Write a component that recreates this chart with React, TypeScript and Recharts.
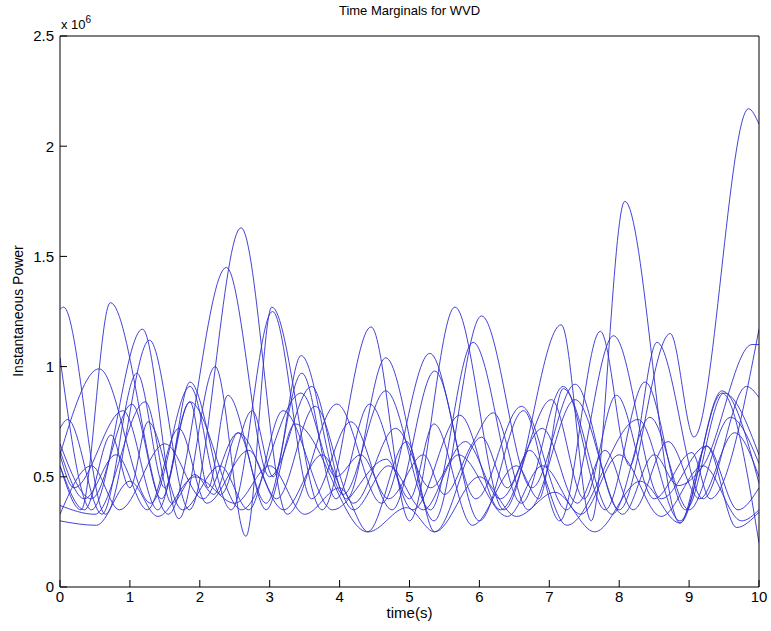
import React from "react";
import { Line, LineChart, XAxis, YAxis } from "recharts";

// time (s) vs instantaneous power (x 10^6) at the peaks and troughs
const timeTicks = [0, 1, 2, 3, 4, 5, 6, 7, 8, 9, 10];
const powerTicks = [0, 0.5, 1, 1.5, 2, 2.5];

const curve1: [number, number][] = [
  [0, 1.26], [0.05, 1.27], [0.65, 0.33], [1.28, 1.12], [1.85, 0.35], [2.59, 1.63], [3.25, 0.33], [3.96, 0.83],
  [4.6, 0.38], [5.29, 1.06], [5.95, 0.4], [6.6, 0.82], [7.25, 0.35], [7.92, 1.14], [8.6, 0.4],
  [9.25, 0.64], [9.7, 0.35], [10, 0.45]
];
const curve2: [number, number][] = [
  [0, 0.55], [0.3, 0.35], [0.72, 1.29], [1.55, 0.33], [2.38, 1.45], [3.0, 0.5], [3.6, 0.91],
  [4.1, 0.4], [4.66, 1.04], [5.35, 0.3], [6.03, 1.23], [6.75, 0.45], [7.37, 0.92], [8.0, 0.35],
  [8.73, 1.15], [9.07, 0.68], [9.85, 2.17], [10, 2.1]
];
const curve3: [number, number][] = [
  [0, 1.04], [0.45, 0.35], [1.18, 1.17], [1.7, 0.31], [2.22, 1.0], [2.66, 0.23], [3.03, 1.27],
  [3.75, 0.35], [4.45, 1.18], [5.0, 0.3], [5.65, 1.27], [6.35, 0.35], [7.17, 1.19], [7.6, 0.3],
  [8.08, 1.75], [8.87, 0.29], [9.47, 0.89], [10, 0.47]
];
const curve4: [number, number][] = [
  [0, 0.72], [0.11, 0.76], [0.6, 0.33], [1.1, 0.97], [1.5, 0.45], [1.86, 0.93], [2.45, 0.35],
  [3.04, 1.25], [3.6, 0.4], [4.16, 0.75], [4.75, 0.35], [5.36, 0.98], [6.0, 0.3], [6.63, 0.8],
  [7.15, 0.3], [7.73, 1.16], [8.15, 0.55], [8.54, 1.11], [9.2, 0.4], [9.82, 0.91], [10, 0.86]
];
const curve5: [number, number][] = [
  [0, 0.6], [0.56, 0.99], [1.3, 0.38], [1.86, 0.91], [2.3, 0.42], [2.75, 0.8], [3.05, 0.5],
  [3.45, 1.05], [4.05, 0.42], [4.66, 0.89], [5.3, 0.35], [5.91, 1.11], [6.6, 0.38], [7.2, 0.91],
  [7.8, 0.35], [8.37, 0.93], [8.95, 0.35], [9.5, 0.88], [10, 0.6]
];
const curve6: [number, number][] = [
  [0, 0.65], [0.45, 0.4], [1.03, 0.83], [1.45, 0.4], [1.86, 0.84], [2.12, 0.45], [2.4, 0.87],
  [2.95, 0.38], [3.46, 0.97], [3.95, 0.4], [4.43, 0.83], [5.05, 0.35], [5.72, 0.78], [6.3, 0.35],
  [7.03, 0.85], [7.5, 0.4], [7.96, 0.87], [8.5, 0.4], [9.04, 0.61], [9.3, 0.4], [10, 1.17]
];
const curve7: [number, number][] = [
  [0, 0.55], [0.35, 0.35], [0.73, 0.69], [1.0, 0.45], [1.26, 0.75], [1.75, 0.35], [2.29, 0.55],
  [2.7, 0.35], [3.19, 0.8], [3.9, 0.35], [4.67, 0.58], [5.0, 0.4], [5.35, 0.74], [5.9, 0.28],
  [6.53, 0.55], [6.85, 0.4], [7.2, 0.9], [7.9, 0.33], [8.44, 0.77], [9.0, 0.35], [9.59, 0.77],
  [10, 0.56]
];
const curve8: [number, number][] = [
  [0, 0.37], [0.5, 0.33], [1.22, 0.84], [1.6, 0.38], [1.93, 0.51], [2.2, 0.42], [2.55, 0.7],
  [2.95, 0.35], [3.36, 0.74], [4.4, 0.25], [4.96, 0.66], [5.36, 0.25], [6.03, 0.68], [6.4, 0.45],
  [6.72, 0.62], [7.25, 0.28], [8.27, 0.76], [8.87, 0.3], [9.47, 0.88], [10, 0.2]
];
const curve9: [number, number][] = [
  [0, 0.3], [0.52, 0.28], [1.0, 0.48], [1.4, 0.32], [1.93, 0.5], [2.5, 0.38], [3.0, 0.55],
  [3.5, 0.33], [4.0, 0.45], [4.41, 0.25], [4.96, 0.36], [5.36, 0.25], [6.0, 0.5], [6.53, 0.32],
  [7.08, 0.43], [7.65, 0.25], [8.3, 0.48], [8.87, 0.29], [9.25, 0.64], [9.68, 0.27], [10, 0.34]
];
const curve10: [number, number][] = [
  [0, 0.6], [0.2, 0.45], [0.9, 0.8], [1.4, 0.35], [1.86, 0.84], [2.6, 0.35], [3.45, 0.88],
  [3.95, 0.5], [4.3, 0.6], [4.7, 0.4], [5.2, 0.6], [5.5, 0.42], [5.88, 0.64], [6.2, 0.79],
  [6.7, 0.35], [7.37, 0.85], [8.05, 0.33], [8.5, 0.6], [8.84, 0.46], [9.2, 0.55], [9.9, 1.1],
  [10, 1.1]
];
const curve11: [number, number][] = [
  [0, 0.33], [0.45, 0.55], [0.85, 0.35], [1.5, 0.65], [2.05, 0.4], [2.55, 0.7], [3.2, 0.35],
  [3.75, 0.6], [4.2, 0.35], [4.7, 0.55], [5.2, 0.35], [5.7, 0.6], [6.4, 0.32], [6.9, 0.55],
  [7.45, 0.33], [8.0, 0.6], [8.6, 0.32], [9.2, 0.55], [9.75, 0.3], [10, 0.35]
];
const curve12: [number, number][] = [
  [0, 0.62], [0.35, 0.4], [0.8, 0.6], [1.25, 0.35], [1.7, 0.72], [2.1, 0.38], [2.7, 0.62],
  [3.1, 0.4], [3.65, 0.82], [4.2, 0.38], [4.8, 0.72], [5.3, 0.45], [5.8, 0.66], [6.3, 0.4],
  [6.9, 0.72], [7.4, 0.38], [7.8, 0.62], [8.2, 0.35], [8.7, 0.66], [9.15, 0.4], [9.65, 0.7],
  [10, 0.5]
];

const curves = [curve1, curve2, curve3, curve4, curve5, curve6, curve7, curve8, curve9, curve10, curve11, curve12];

const font = "'Liberation Sans', Arial, sans-serif";
const lineColor = "#2f2fcf";

const toPoints = (c: [number, number][]) => c.map(([t, p]) => ({ t, p }));

export default function App() {
  return (
    <div style={{ position: "absolute", left: 0, top: 0, width: 771, height: 631, background: "#fff", fontFamily: font }}>
      <LineChart width={771} height={631} margin={{ top: 35, right: 11, bottom: 14, left: 20 }}>
        <XAxis
          xAxisId="b"
          dataKey="t"
          type="number"
          domain={[0, 10]}
          ticks={timeTicks}
          allowDataOverflow
          height={30}
          stroke="#000"
          tickSize={-7}
          tickMargin={11}
          tick={{ fill: "#000", fontSize: 15, fontFamily: font }}
        />
        <XAxis
          xAxisId="t"
          orientation="top"
          dataKey="t"
          type="number"
          domain={[0, 10]}
          ticks={timeTicks}
          height={1}
          stroke="#000"
          tickSize={-7}
          tickFormatter={() => ""}
        />
        <YAxis
          yAxisId="l"
          type="number"
          domain={[0, 2.5]}
          ticks={powerTicks}
          width={40}
          stroke="#000"
          tickSize={-7}
          tickMargin={13}
          tick={{ fill: "#000", fontSize: 15, fontFamily: font }}
        />
        <YAxis
          yAxisId="r"
          orientation="right"
          type="number"
          domain={[0, 2.5]}
          ticks={powerTicks}
          width={1}
          stroke="#000"
          tickSize={-7}
          tickFormatter={() => ""}
        />
        {curves.map((c, i) => (
          <Line
            key={i}
            xAxisId="b"
            yAxisId="l"
            data={toPoints(c)}
            dataKey="p"
            type="monotone"
            stroke={lineColor}
            strokeWidth={0.9}
            dot={false}
            isAnimationActive={false}
          />
        ))}
      </LineChart>
      <div style={{ position: "absolute", left: 60, width: 699, top: 3, textAlign: "center", fontSize: 13 }}>
        Time Marginals for WVD
      </div>
      <div style={{ position: "absolute", left: 61, top: 14, fontSize: 13 }}>
        x 10<sup style={{ fontSize: 10, verticalAlign: "6px" }}>6</sup>
      </div>
      <div style={{ position: "absolute", left: 60, width: 699, top: 604, textAlign: "center", fontSize: 15 }}>
        time(s)
      </div>
      <div
        style={{
          position: "absolute",
          left: 18,
          top: 311,
          fontSize: 14,
          whiteSpace: "nowrap",
          transform: "translate(-50%, -50%) rotate(-90deg)"
        }}>
        Instantaneous Power
      </div>
    </div>
  );
}
